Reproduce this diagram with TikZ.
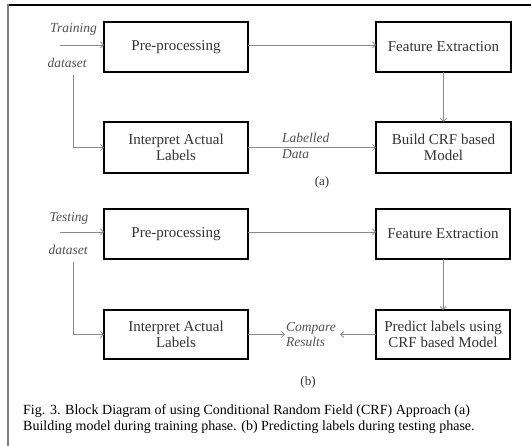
\documentclass[tikz,border=0pt]{standalone}
\usepackage{fontspec}
\setmainfont{Liberation Serif}
\usetikzlibrary{arrows.meta}
\definecolor{linegray}{HTML}{8A8A8A}
\definecolor{boxtext}{HTML}{333333}
\definecolor{labeltext}{HTML}{505050}
\tikzset{
  block/.style={draw=black, line width=1.4pt, rectangle, inner sep=0pt, outer sep=0pt,
    align=center, text=boxtext, font=\fontsize{15}{16.5}\selectfont},
  flow/.style={draw=linegray, line width=0.8pt, -{Straight Barb[length=3pt,width=6pt]}},
  tag/.style={inner sep=0pt, text=labeltext, font=\fontsize{13.5}{16}\selectfont\itshape, align=left},
  sub/.style={inner sep=0pt, text=boxtext, font=\fontsize{13}{15}\selectfont}
}
\begin{document}
\begin{tikzpicture}[x=1pt, y=-1pt]
\useasboundingbox (0,0) rectangle (531,446);
% frame
\draw[black, line width=1.2pt] (7,5) -- (531,5);
\draw[gray, line width=2pt] (7.5,4.4) -- (7.5,446);

% ---- (a) training phase ----
\node[block, minimum width=144pt, minimum height=50pt] (pp1) at (176,47) {Pre-processing};
\node[block, minimum width=135pt, minimum height=50pt] (fe1) at (443.5,47) {Feature Extraction};
\node[block, minimum width=144pt, minimum height=51pt] (ia1) at (176,147.5) {Interpret Actual\\Labels};
\node[block, minimum width=135pt, minimum height=51pt] (bc1) at (443.5,147.5) {Build CRF based\\Model};

\node[tag] (tr) at (73.5,29) {Training};
\node[tag] (ds1) at (67,63) {dataset};
\coordinate (in1) at (60,45);
\coordinate (sp1) at (73,75);

\draw[flow] (in1) -- (in1 -| pp1.west);
\draw[flow] (sp1) |- (ia1.west);
\draw[flow] (pp1.east |- in1) -- (fe1.west |- in1);
\draw[flow] (fe1) -- (bc1);
\draw[flow] (ia1) -- (bc1);
\node[tag, anchor=west] (ld1) at (282,138) {Labelled};
\node[tag, anchor=west] (ld2) at (282,154) {Data};
\node[sub] (capa) at (322,182) {(a)};

% ---- (b) testing phase ----
\node[block, minimum width=144pt, minimum height=50pt] (pp2) at (176,234) {Pre-processing};
\node[block, minimum width=134pt, minimum height=50pt] (fe2) at (443,234) {Feature Extraction};
\node[block, minimum width=144pt, minimum height=49pt] (ia2) at (176,334.5) {Interpret Actual\\Labels};
\node[block, minimum width=134pt, minimum height=49pt] (pl2) at (443,334.5) {Predict labels using\\CRF based Model};

\node[tag] (te) at (69,218) {Testing};
\node[tag] (ds2) at (68,250) {dataset};
\coordinate (in2) at (60,232);
\coordinate (sp2) at (73,262);

\draw[flow] (in2) -- (in2 -| pp2.west);
\draw[flow] (sp2) |- (ia2.west);
\draw[flow] (pp2.east |- in2) -- (fe2.west |- in2);
\draw[flow] (fe2) -- (pl2);
\node[tag, anchor=west, inner sep=1pt, font=\fontsize{13.5}{15}\selectfont\itshape] (cr) at (285,334.5) {Compare\\Results};
\draw[flow] (ia2) -- (cr.west);
\draw[flow] (pl2) -- ([xshift=3pt]cr.east);
\node[sub] (capb) at (308,382) {(b)};

% caption
\node[anchor=north west, inner sep=0pt, align=left, font=\fontsize{14}{16}\selectfont] (cap) at (23,404)
  {Fig. 3. Block Diagram of using Conditional Random Field (CRF) Approach (a)\\
   Building model during training phase. (b) Predicting labels during testing phase.};
\end{tikzpicture}
\end{document}
